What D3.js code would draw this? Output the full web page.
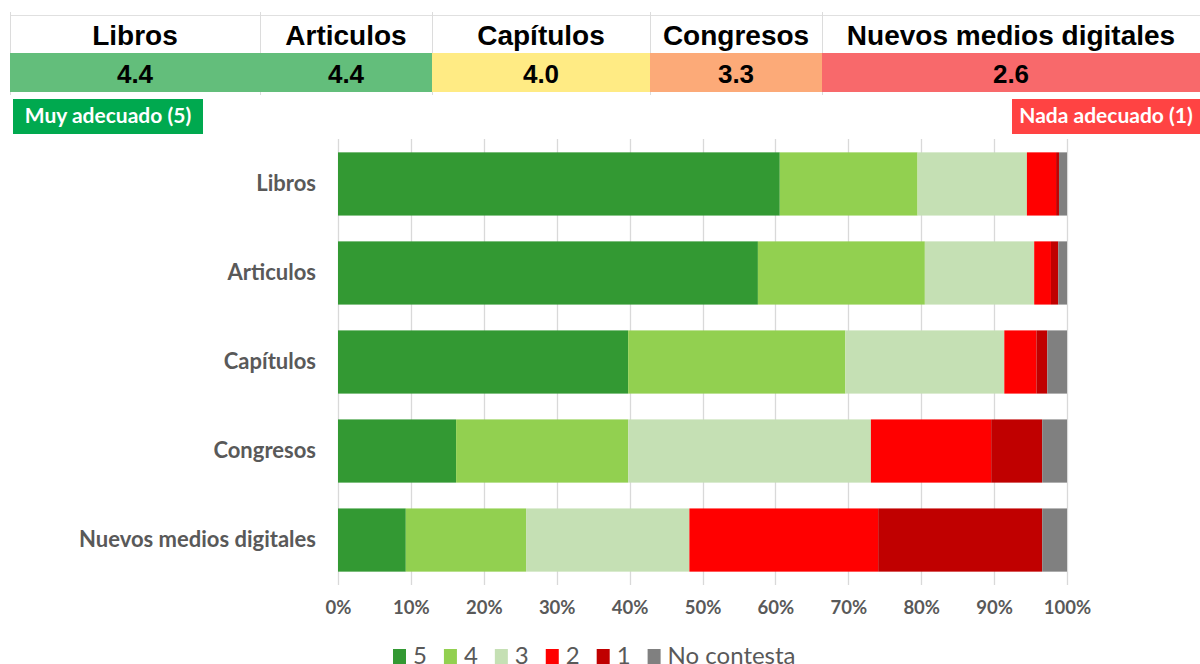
<!DOCTYPE html>
<html lang="es">
<head>
<meta charset="UTF-8">
<title>Valoración de medios</title>
<script src="https://cdn.jsdelivr.net/npm/d3@7/dist/d3.min.js"></script>
<style>
  body { margin: 0; background: #fff; }
  svg { display: block; }
  .cat text { font-family: Lato, sans-serif; font-weight: bold; font-size: 22px; fill: #595959; }
  .xaxis text { font-family: Lato, sans-serif; font-weight: bold; font-size: 18.5px; fill: #595959; }
  .legend text { font-family: Lato, sans-serif; font-size: 24px; fill: #595959; }
</style>
</head>
<body>
<svg width="1200" height="664"></svg>
<script>
// datos
var categories = ["Libros", "Articulos", "Capítulos", "Congresos", "Nuevos medios digitales"];
var scores = [4.4, 4.4, 4.0, 3.3, 2.6];
var keys = ["5", "4", "3", "2", "1", "No contesta"];
var v5 = [60.6, 57.6, 39.8, 16.2, 9.3];
var v4 = [18.9, 22.9, 29.8, 23.6, 16.5];
var v3 = [15.0, 15.0, 21.8, 33.3, 22.4];
var v2 = [4.0, 2.3, 4.4, 16.5, 25.9];
var v1 = [0.4, 1.0, 1.5, 7.0, 22.5];
var vNC = [1.1, 1.2, 2.7, 3.4, 3.4];
var xTicks = [0, 0.1, 0.2, 0.3, 0.4, 0.5, 0.6, 0.7, 0.8, 0.9, 1];

var colors = ["#339933", "#92d050", "#c5e0b4", "#ff0000", "#c00000", "#808080"];

var svg = d3.select("svg");

// ---- tabla superior ----
var colEdges = [10, 260, 432, 650, 822, 1200];
var heat = d3.scaleLinear()
    .domain([d3.min(scores), d3.median(scores), d3.max(scores)])
    .range(["#f8696b", "#ffeb84", "#63be7b"]);

var table = svg.append("g");
table.append("line")
    .attr("x1", colEdges[0]).attr("x2", 1200)
    .attr("y1", 15.5).attr("y2", 15.5)
    .attr("stroke", "#e0e0e0");

// lineas de la tabla (debajo de las celdas de color)
colEdges.slice(0, -1).forEach(function (x0) {
    table.append("line")
        .attr("x1", x0 + 0.5).attr("x2", x0 + 0.5)
        .attr("y1", 12).attr("y2", 95)
        .attr("stroke", "#dcdcdc");
});

categories.forEach(function (c, i) {
    var x0 = colEdges[i], x1 = colEdges[i + 1];
    table.append("rect")
        .attr("x", x0).attr("y", 53)
        .attr("width", x1 - x0).attr("height", 39)
        .attr("fill", heat(scores[i]));
    table.append("text")
        .attr("x", (x0 + x1) / 2).attr("y", 45)
        .attr("text-anchor", "middle")
        .style("font-family", "'Liberation Sans', Arial, sans-serif")
        .style("font-weight", "bold")
        .style("font-size", "28px")
        .text(c);
    table.append("text")
        .attr("x", (x0 + x1) / 2).attr("y", 83)
        .attr("text-anchor", "middle")
        .style("font-family", "'Liberation Sans', Arial, sans-serif")
        .style("font-weight", "bold")
        .style("font-size", "26px")
        .text(d3.format(".1f")(scores[i]));
});

// etiquetas extremo
function badge(bx, w, fill, label) {
    svg.append("rect").attr("x", bx).attr("y", 99).attr("width", w).attr("height", 35).attr("fill", fill);
    svg.append("text")
        .attr("x", bx + w / 2).attr("y", 123)
        .attr("text-anchor", "middle")
        .style("font-family", "Lato, sans-serif")
        .style("font-weight", "bold")
        .style("font-size", "21px")
        .attr("fill", "#fff")
        .text(label);
}
badge(13, 190, "#00a94f", "Muy adecuado (5)");
badge(1012, 188, "#ff4343", "Nada adecuado (1)");

// ---- barras apiladas ----
var mLeft = 338, mRight = 1067, mTop = 139, mBottom = 585;

var x = d3.scaleLinear().domain([0, 1]).range([mLeft, mRight]);
var y = d3.scaleBand().domain(categories).range([mTop, mBottom]).paddingInner(0.29).paddingOuter(0.15);

var rows = categories.map(function (c, i) {
    return { cat: c, "5": v5[i], "4": v4[i], "3": v3[i], "2": v2[i], "1": v1[i], "No contesta": vNC[i] };
});
var series = d3.stack().keys(keys).offset(d3.stackOffsetExpand)(rows);

// rejilla
svg.append("g").selectAll("line")
    .data(xTicks)
    .enter().append("line")
    .attr("x1", function (d) { return Math.round(x(d)) + 0.5; })
    .attr("x2", function (d) { return Math.round(x(d)) + 0.5; })
    .attr("y1", mTop).attr("y2", mBottom)
    .attr("stroke", "#d9d9d9")
    .attr("stroke-width", 1.3);

svg.append("g").selectAll("g")
    .data(series)
    .enter().append("g")
    .attr("fill", function (d, i) { return colors[i]; })
    .selectAll("rect")
    .data(function (d) { return d; })
    .enter().append("rect")
    .attr("x", function (d) { return x(d[0]); })
    .attr("y", function (d) { return y(d.data.cat); })
    .attr("width", function (d) { return x(d[1]) - x(d[0]); })
    .attr("height", y.bandwidth());

// eje categorias
var yAxis = svg.append("g")
    .attr("class", "cat")
    .attr("transform", "translate(" + (mLeft - 22) + ",0)")
    .call(d3.axisLeft(y).tickSize(0).tickPadding(0));
yAxis.select(".domain").remove();
yAxis.selectAll("text").attr("dy", "0.32em");

// eje x
var xAxis = svg.append("g")
    .attr("class", "xaxis")
    .attr("transform", "translate(0," + (mBottom + 16) + ")")
    .call(d3.axisBottom(x).tickValues(xTicks).tickFormat(d3.format(".0%")).tickSize(0).tickPadding(0));
xAxis.select(".domain").remove();
xAxis.selectAll("text").attr("dy", "0.71em");

// leyenda
var legend = svg.append("g").attr("class", "legend");
var lx = 393;
keys.forEach(function (k, i) {
    legend.append("rect")
        .attr("x", lx).attr("y", 649)
        .attr("width", 13).attr("height", 15)
        .attr("fill", colors[i]);
    var t = legend.append("text")
        .attr("x", lx + 20).attr("y", 664)
        .text(k);
    lx += 20 + t.node().getComputedTextLength() + 17;
});
</script>
</body>
</html>
